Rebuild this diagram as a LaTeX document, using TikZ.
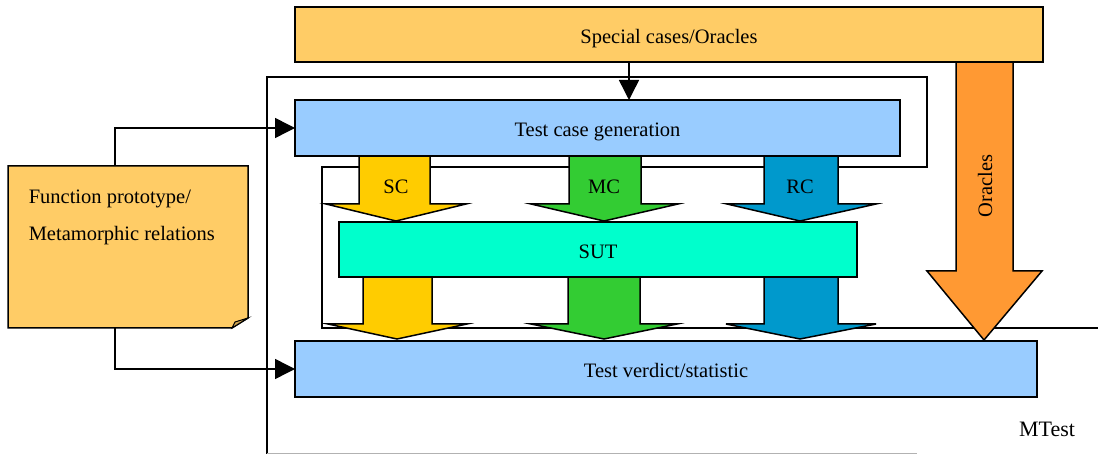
\documentclass[tikz,border=0pt]{standalone}
\usepackage{fontspec}
\setmainfont{Liberation Serif}
\usetikzlibrary{arrows.meta}
\definecolor{cOrange}{HTML}{FFCC66}
\definecolor{cBlue}{HTML}{99CCFF}
\definecolor{cSut}{HTML}{00FFCC}
\definecolor{cSC}{HTML}{FFCC00}
\definecolor{cMC}{HTML}{33CC33}
\definecolor{cRC}{HTML}{0099CC}
\definecolor{cOra}{HTML}{FF9933}
\newcommand{\mtblock}[8]{% shaft xl, xr, head xl, xr, tip x, ytop, ybase, ytip ; colour via \mtcol
  \filldraw[fill=\mtcol] (#1,#6) -- (#2,#6) -- (#2,#7) -- (#4,#7) -- (#5,#8) -- (#3,#7) -- (#1,#7) -- cycle;}
\begin{document}
\begin{tikzpicture}[x=1pt,y=-1pt,line width=1.5pt,line join=miter,
  box/.style={draw,inner sep=0pt,outer sep=0pt,text height=17.6pt,text depth=0pt,font=\fontsize{20.5}{24}\selectfont},
  lbl/.style={inner sep=0pt,font=\fontsize{20.5}{24}\selectfont},
  arr/.style={-{Triangle[length=20pt,width=20pt]}}]
\useasboundingbox (0,0) rectangle (1098,454);
% MTest frame
\draw (267,455) -- (267,77) -- (927,77) -- (927,167) -- (322,167) -- (322,328) -- (1098,328);
\draw[gray!60,line width=1pt] (267,453) -- (917,453);
% block arrows upper
\def\mtcol{cSC}\mtblock{359}{430}{326}{466}{396}{156}{204}{221}
\def\mtcol{cMC}\mtblock{569}{641}{531}{678}{604}{156}{204}{221}
\def\mtcol{cRC}\mtblock{764}{838}{727}{876}{800}{156}{204}{221}
% block arrows lower
\def\mtcol{cSC}\mtblock{363}{432}{328}{467}{397}{277}{324}{339}
\def\mtcol{cMC}\mtblock{568}{640}{531}{677}{604}{277}{324}{339}
\def\mtcol{cRC}\mtblock{764}{838}{726}{876}{800}{277}{324}{339}
% oracles arrow
\def\mtcol{cOra}\mtblock{956}{1013}{927}{1042}{984}{62}{271}{340}
\node[lbl,rotate=90] (ora) at (985,186) {Oracles};
% boxes
\node[box,fill=cOrange,minimum width=748pt,minimum height=55pt] (sc) at (669,34.5) {Special cases/Oracles};
\node[box,fill=cBlue,minimum width=605pt,minimum height=56pt] (tcg) at (597.5,128) {Test case generation};
\node[box,fill=cSut,minimum width=518pt,minimum height=55pt] (sut) at (598,249.5) {SUT};
\node[box,fill=cBlue,minimum width=742pt,minimum height=56pt] (tv) at (666,369) {Test verdict/statistic};
\node[inner sep=0pt,outer sep=0pt,minimum width=240pt,minimum height=162pt] (fp) at (128,247) {};
\filldraw[fill=cOrange] (fp.north west) -- (fp.north east) -- ([yshift=10pt]fp.south east) -- ([xshift=-16pt]fp.south east) -- (fp.south west) -- cycle;
\filldraw[fill=cOrange!80!black,line width=1pt] ([xshift=-16pt]fp.south east) -- ([xshift=-13pt,yshift=6pt]fp.south east) -- ([yshift=10pt]fp.south east) -- cycle;
\node[lbl,anchor=west] (fp1) at (28,199) {Function prototype/};
\node[lbl,anchor=west] (fp2) at (28,236) {Metamorphic relations};
% labels on arrows
\node[lbl] (lsc) at (396,187) {SC};
\node[lbl] (lmc) at (604,187) {MC};
\node[lbl] (lrc) at (800,187) {RC};
\node[lbl,font=\fontsize{22}{26}\selectfont] (mt) at (1047,429) {MTest};
% connectors
\draw[arr] (sc.south -| 629,0) -- (tcg.north -| 629,0);
\draw[arr] ([xshift=107pt]fp.north west) |- (tcg.west);
\draw[arr] ([xshift=107pt]fp.south west) |- (tv.west);
\end{tikzpicture}
\end{document}
